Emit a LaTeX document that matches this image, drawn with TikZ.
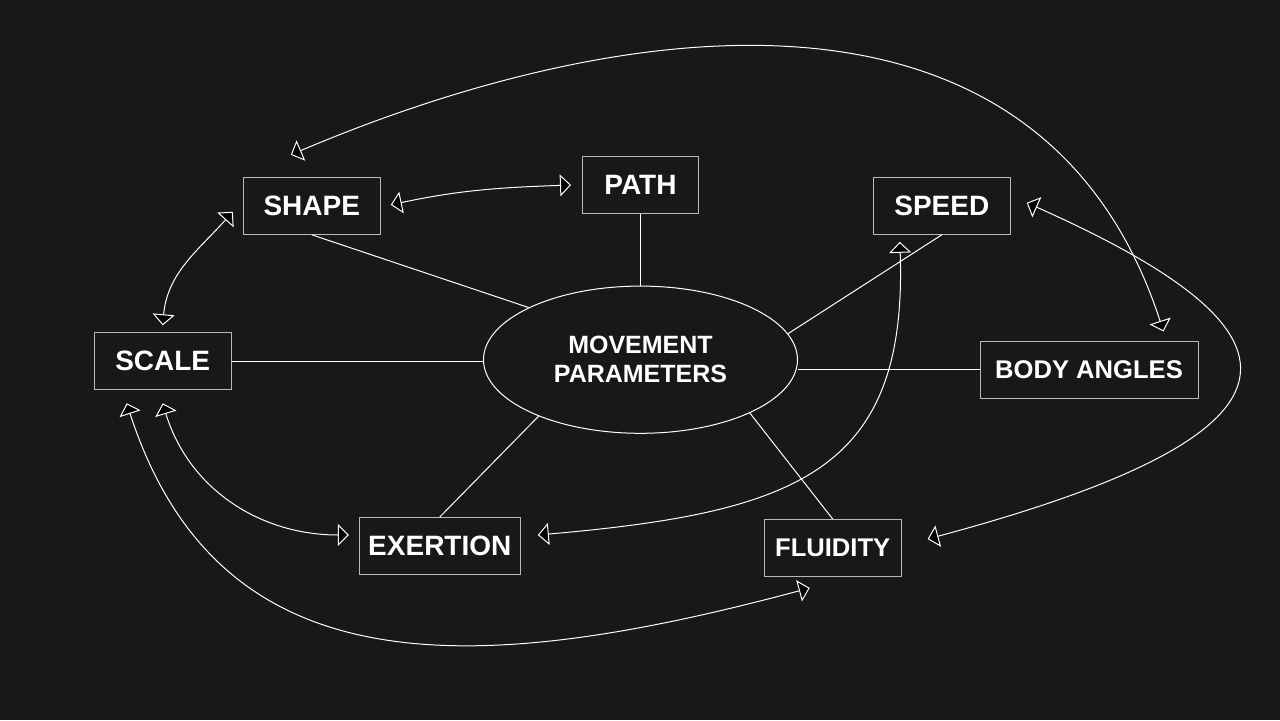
\documentclass[tikz,border=0pt]{standalone}
\usepackage{fontspec}
\setmainfont{Liberation Sans}
\usepackage{tikz}
\usetikzlibrary{arrows.meta,shapes.geometric}

\definecolor{fundo}{RGB}{24,24,24}
\definecolor{borda}{RGB}{185,185,185}

\begin{document}
\begin{tikzpicture}[x=0.5pt,y=0.5pt,
  caixa/.style={draw=borda, line width=0.5pt, text=white, inner sep=0pt,
    minimum height=28.5pt, font=\bfseries\fontsize{14}{17}\selectfont},
  elo/.style={draw=white, line width=0.5pt},
  ponta/.tip={Triangle[length=5.5pt,width=11pt,fill=black]},
  seta/.style={elo, ponta-ponta}] %caixas, ligacoes e setas

%Fundo escuro da figura, do ponto (0,0) ao ponto (1280,720), que fixa tambem as margens
%---------------------------------------------------
\useasboundingbox (0,0) rectangle (1280,720);
\fill[fundo] (0,0) rectangle (1280,720);
%---------------------------------------------------

%Elipse central e as sete caixas dos parametros, cada uma em sua coordenada
%---------------------------------------------------
\node[ellipse, draw=white, line width=0.5pt, text=white, inner sep=0pt,
  minimum width=157pt, minimum height=73.6pt, align=center, text depth=0pt,
  font=\bfseries\fontsize{12.5}{14.5}\selectfont] (MP) at (640.5,360.3) {MOVEMENT\\PARAMETERS};
\node[caixa, minimum width=68.5pt] (Shape) at (311.8,514.2) {SHAPE};
\node[caixa, minimum width=58pt] (Path) at (640.5,535) {PATH};
\node[caixa, minimum width=68.5pt] (Speed) at (941.8,514.2) {SPEED};
\node[caixa, minimum width=68.4pt] (Scale) at (162.7,358.7) {SCALE};
\node[caixa, minimum width=109pt, font=\bfseries\fontsize{12.8}{16}\selectfont] (Body) at (1089,350.5) {BODY ANGLES};
\node[caixa, minimum width=80.5pt] (Exertion) at (439.8,174) {EXERTION};
\node[caixa, minimum width=68.4pt, font=\bfseries\fontsize{12.8}{16}\selectfont] (Fluidity) at (832.7,172) {FLUIDITY};
%---------------------------------------------------

%Ligacoes retas de cada caixa ate a borda da elipse
%---------------------------------------------------
\draw[elo] (Shape.south) -- (MP.155.7);
\draw[elo] (Path.south) -- (MP.north);
\draw[elo] (Speed.south) -- (MP.10.7);
\draw[elo] (Scale.east) -- (MP.west |- Scale.east);
\draw[elo] (Body.west) -- (MP.east |- Body.west);
\draw[elo] (Exertion.north) -- (MP.209);
\draw[elo] (Fluidity.north) -- (MP.-26.8);
%---------------------------------------------------

%Setas curvas de duas pontas entre as caixas
%---------------------------------------------------
\draw[seta] ([shift={(10,1)}]Shape.east) to[out=12,in=182] ([shift={(-11,0)}]Path.west);
\draw[seta] ([shift={(-10,23)}]Shape.south west) to[out=228,in=85] ([shift={(0,7)}]Scale.north);
\draw[seta] ([shift={(0,-13)}]Scale.south) to[out=-73,in=180] ([shift={(-10,11)}]Exertion.west);
\draw[seta] ([shift={(-36,-13)}]Scale.south) .. controls +(-72:300) and +(195:350) .. ([shift={(-23,-11)}]Fluidity.south);
\draw[seta] ([shift={(-42,-7)}]Speed.south) .. controls +(-88:230) and +(5:260) .. ([shift={(17,11)}]Exertion.east);
\draw[seta] ([shift={(16,3)}]Speed.east) .. controls +(-24:310) and +(15:425) .. ([shift={(26,9)}]Fluidity.east);
\draw[seta] ([shift={(-21,22)}]Shape.north) .. controls +(23:350) and +(108:400) .. ([shift={(-35,9)}]Body.north east);
%---------------------------------------------------

\end{tikzpicture}
\end{document}
